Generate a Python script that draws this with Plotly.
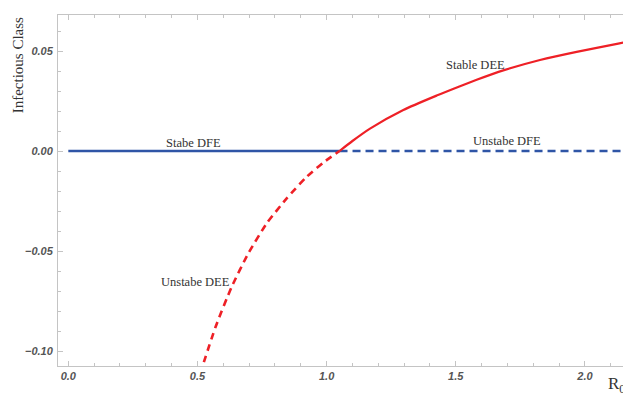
import plotly.graph_objects as go

# ---- data ----
dfe_stable_x = [0.0, 1.05]
dfe_stable_y = [0.0, 0.0]
dfe_unstable_x = [1.05, 2.15]
dfe_unstable_y = [0.0, 0.0]

dee_unstable_x = [0.51, 0.5700, 0.6326, 0.6969, 0.7681, 0.8455, 0.9230, 0.9900, 1.0500]
dee_unstable_y = [-0.1115, -0.0880, -0.0679, -0.0512, -0.0362, -0.0237, -0.0129, -0.0055, 0.0]

dee_stable_x = [1.05, 1.10, 1.168, 1.297, 1.426, 1.5165, 1.581, 1.684, 1.826, 1.968, 2.129, 2.15]
dee_stable_y = [0.0, 0.0050, 0.0112, 0.0205, 0.0277, 0.0324, 0.0356, 0.0403, 0.0455, 0.0496, 0.0537, 0.0542]

x_ticks = [0.0, 0.5, 1.0, 1.5, 2.0]
y_ticks = [-0.10, -0.05, 0.00, 0.05]

labels = ["Stabe DFE", "Unstabe DFE", "Stable DEE", "Unstabe DEE"]
label_x = [0.484, 1.697, 1.5745, 0.4936]
label_y = [0.00415, 0.00515, 0.04285, -0.06535]

BLUE = "#2f55a6"
RED = "#ee2026"
AX = "#c4c4c4"

fig = go.Figure()
fig.add_trace(go.Scatter(x=dfe_stable_x, y=dfe_stable_y, mode="lines",
                         line=dict(color=BLUE, width=2.6)))
fig.add_trace(go.Scatter(x=dfe_unstable_x, y=dfe_unstable_y, mode="lines",
                         line=dict(color=BLUE, width=2.6, dash="8px,5px")))
fig.add_trace(go.Scatter(x=dee_unstable_x, y=dee_unstable_y, mode="lines",
                         line=dict(color=RED, width=2.6, dash="7px,5px", shape="spline", smoothing=0.6)))
fig.add_trace(go.Scatter(x=dee_stable_x, y=dee_stable_y, mode="lines",
                         line=dict(color=RED, width=2.2, shape="spline", smoothing=0.6)))

tickfont = dict(family="Liberation Sans, Arial", size=11, color="#555555",
                weight="bold", style="italic")

fig.update_xaxes(range=[-0.0399, 2.1475], tickvals=x_ticks, tickformat=".1f",
                 ticks="inside", ticklen=5, tickcolor=AX, tickwidth=1,
                 minor=dict(dtick=0.1, tick0=0, ticks="inside", ticklen=3, tickcolor=AX),
                 showline=True, linecolor=AX, linewidth=1, mirror="ticks",
                 showgrid=False, zeroline=False, tickfont=tickfont)
fig.update_yaxes(range=[-0.1075, 0.068], tickvals=y_ticks, tickformat=".2f",
                 ticks="inside", ticklen=5, tickcolor=AX, tickwidth=1,
                 minor=dict(dtick=0.01, tick0=0, ticks="inside", ticklen=3, tickcolor=AX),
                 showline=True, linecolor=AX, linewidth=1, mirror=False,
                 showgrid=False, zeroline=False, tickfont=tickfont, ticklabelstandoff=2)

serif = dict(family="Liberation Serif, Times New Roman", size=12.5, color="#333333")
for t, x, y in zip(labels, label_x, label_y):
    fig.add_annotation(x=x, y=y, text=t, showarrow=False, font=serif,
                       xanchor="center", yanchor="middle")

fig.add_annotation(xref="paper", yref="paper", x=-0.0717, y=0.858,
                   text="Infectious Class", textangle=-90, showarrow=False,
                   font=dict(family="Liberation Serif, Times New Roman", size=15, color="#333333"),
                   xanchor="center", yanchor="middle")
fig.add_annotation(xref="paper", yref="paper", x=0.970, y=-0.055,
                   text="R<sub>0</sub>", showarrow=False,
                   font=dict(family="Liberation Serif, Times New Roman", size=17, color="#333333"),
                   xanchor="left", yanchor="middle")

fig.update_layout(width=623, height=394, showlegend=False,
                  margin=dict(l=58, r=0, t=15, b=28),
                  plot_bgcolor="white", paper_bgcolor="white")

# remove the browser's default body margin so the figure fills the window exactly
fig.write_html("out.html", config={"displayModeBar": False},
               post_script="document.body.style.margin='0px';document.body.style.overflow='hidden';")
